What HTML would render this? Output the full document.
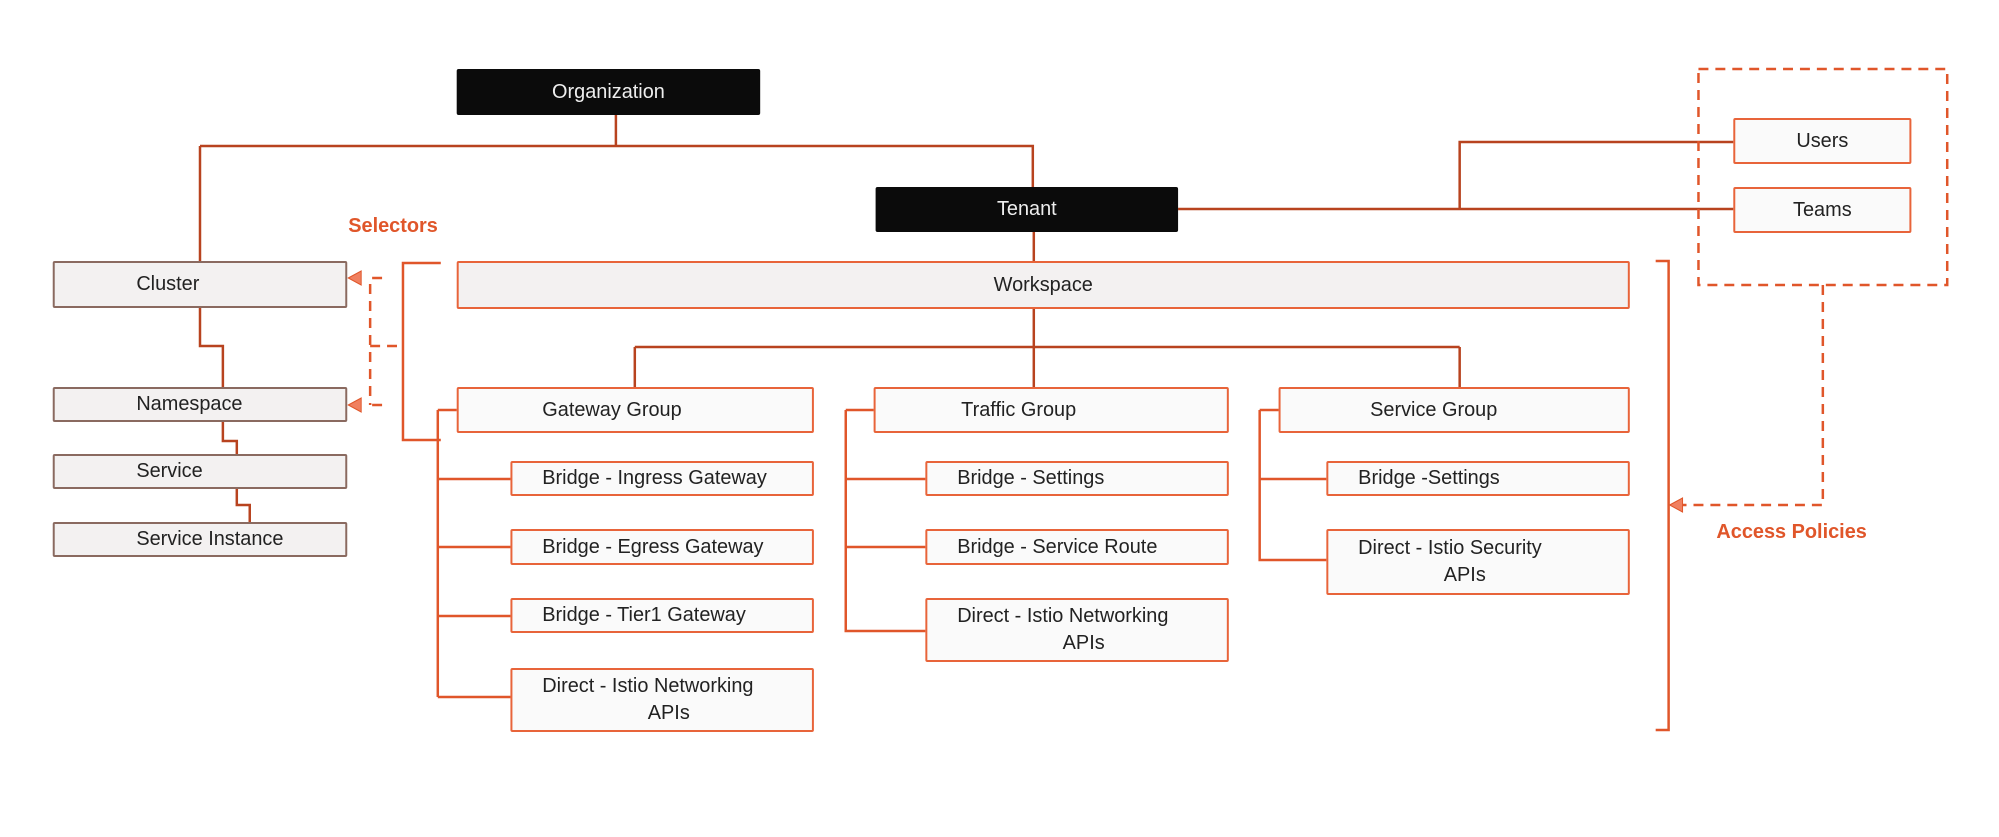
<!DOCTYPE html>
<html><head><meta charset="utf-8"><style>
html,body{margin:0;padding:0;background:#fff;}
body{width:1999px;height:837px;position:relative;overflow:hidden;font-family:"Liberation Sans",sans-serif;}
#w{position:absolute;left:0;top:0;width:1999px;height:837px;transform:scale(0.995,1);transform-origin:0 0;}
.b{position:absolute;box-sizing:border-box;font-size:20px;color:#222;display:flex;align-items:center;}
.o{background:#fafafa;border:2px solid #e8643a;border-radius:2px;padding-left:30px;}
.g{background:#f3f1f1;border:2px solid #8a6a60;border-radius:2px;padding-left:82px;}
.k{background:#0b0b0b;color:#eee;justify-content:center;border-radius:2px;}
.c{justify-content:center;padding-left:0;}
.t2{line-height:27px;}
.lbl{position:absolute;color:#e0562a;font-size:20px;font-weight:bold;}
svg{position:absolute;left:0;top:0;}
</style></head><body><div id="w">
<svg width="1999" height="837" viewBox="0 0 1999 837">
<g fill="none" stroke="#b8431f" stroke-width="2.5">
<path d="M619 115V146M201 146H1038V187M201 146V261"/>
<path d="M201 308V346H224V387M224 422V441H238V454M238 489V505H251V522"/>
<path d="M1184 209H1742M1467 209V142H1742"/>
<path d="M1039 232V261M1039 309V347M638 347H1467M638 347V387M1039 347V387M1467 347V387"/>
</g>
<g fill="none" stroke="#e0562a" stroke-width="2.5">
<path d="M440 410H459M440 410V697M440 479H513M440 547H513M440 616H513M440 697H513"/>
<path d="M850 410H878M850 410V631H930M850 479H930M850 547H930"/>
<path d="M1266 410H1285M1266 410V560H1333M1266 479H1333"/>
<path d="M443 263H405V440H443"/>
<path d="M1664 261H1677V730H1664"/>
</g>
<g fill="none" stroke="#e0562a" stroke-width="2.5" stroke-dasharray="10,7">
<rect x="1707" y="69" width="250" height="216"/>
<path d="M1832 285V505H1691"/>
<path d="M372 284V405M384 405H372M384 278H372M372 346H405"/>
</g>
<g fill="#f08060" stroke="#e0562a" stroke-width="1">
<path d="M1678 505L1691 498V512Z"/>
<path d="M350 278L363 271V285Z"/>
<path d="M350 405L363 398V412Z"/>
</g>
</svg>
<div class="b k" style="left:459px;top:69px;width:305px;height:46px;">Organization</div>
<div class="b k" style="left:880px;top:187px;width:304px;height:45px;">Tenant</div>
<div class="b o c" style="left:1742px;top:118px;width:179px;height:46px;">Users</div>
<div class="b o c" style="left:1742px;top:187px;width:179px;height:46px;">Teams</div>
<div class="b g" style="left:53px;top:261px;width:296px;height:47px;">Cluster</div>
<div class="b g" style="left:53px;top:387px;width:296px;height:35px;">Namespace</div>
<div class="b g" style="left:53px;top:454px;width:296px;height:35px;">Service</div>
<div class="b g" style="left:53px;top:522px;width:296px;height:35px;">Service Instance</div>
<div class="b g c" style="left:459px;top:261px;width:1179px;height:48px;border-color:#e8643a;">Workspace</div>
<div class="b o" style="left:459px;top:387px;width:359px;height:46px;padding-left:84px;">Gateway Group</div>
<div class="b o" style="left:878px;top:387px;width:357px;height:46px;padding-left:86px;">Traffic Group</div>
<div class="b o" style="left:1285px;top:387px;width:353px;height:46px;padding-left:90px;">Service Group</div>
<div class="b o" style="left:513px;top:461px;width:305px;height:35px;">Bridge - Ingress Gateway</div>
<div class="b o" style="left:513px;top:529px;width:305px;height:36px;">Bridge - Egress Gateway</div>
<div class="b o" style="left:513px;top:598px;width:305px;height:35px;">Bridge - Tier1 Gateway</div>
<div class="b o t2" style="left:513px;top:668px;width:305px;height:64px;flex-direction:column;align-items:flex-start;justify-content:center;"><span>Direct - Istio Networking</span><span style="padding-left:106px">APIs</span></div>
<div class="b o" style="left:930px;top:461px;width:305px;height:35px;">Bridge - Settings</div>
<div class="b o" style="left:930px;top:529px;width:305px;height:36px;">Bridge - Service Route</div>
<div class="b o t2" style="left:930px;top:598px;width:305px;height:64px;flex-direction:column;align-items:flex-start;justify-content:center;"><span>Direct - Istio Networking</span><span style="padding-left:106px">APIs</span></div>
<div class="b o" style="left:1333px;top:461px;width:305px;height:35px;">Bridge -Settings</div>
<div class="b o t2" style="left:1333px;top:529px;width:305px;height:66px;flex-direction:column;align-items:flex-start;justify-content:center;"><span>Direct - Istio Security</span><span style="padding-left:86px">APIs</span></div>
<div class="lbl" style="left:350px;top:215px;">Selectors</div>
<div class="lbl" style="left:1725px;top:521px;">Access Policies</div>
</div></body></html>
